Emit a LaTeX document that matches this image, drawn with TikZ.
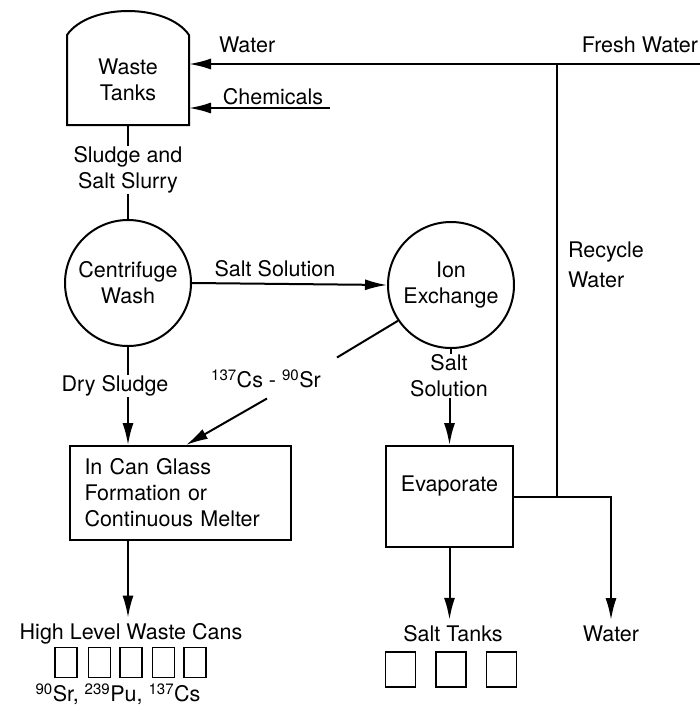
\documentclass[tikz,border=0pt]{standalone}
\usepackage{fontspec}
\setmainfont{TeX Gyre Heros}
\usetikzlibrary{arrows.meta,calc}
\begin{document}
\begin{tikzpicture}[x=1pt,y=-1pt,
  line width=2pt,
  font=\fontsize{21.5}{26}\selectfont,
  lbl/.style={inner sep=0pt, align=center},
  proc/.style={circle, draw, minimum size=126pt, inner sep=0pt, align=center},
  boxnode/.style={draw, inner sep=0pt},
  can/.style={draw, line width=1.6pt, minimum width=22pt, minimum height=30pt, inner sep=0pt},
  stank/.style={draw, line width=1.6pt, minimum width=30pt, minimum height=35pt, inner sep=0pt},
  arr/.style={-{Latex[length=22pt,width=11pt]}},
]
\useasboundingbox (0,0) rectangle (700,713);

% Waste tanks
\node[lbl, minimum width=120pt, minimum height=88pt] (wt) at (128,80) {Waste\\Tanks};
\draw (wt.south west) -- (wt.north west) .. controls +(22,-32) and +(-22,-32) .. (wt.north east) -- (wt.south east) -- cycle;

% Water / chemicals inputs
\coordinate (fw) at (700,64);
\node[lbl, anchor=west] (wl) at (218,45) {Water};
\node[lbl, anchor=east] (fwl) at (699,45) {Fresh Water};
\draw[arr] (fw) -- (wt.east |- fw);
\coordinate (ch) at (330,108);
\node[lbl] (chl) at (273,97) {Chemicals};
\draw[arr] (ch) -- (wt.east |- ch);

% Slurry
\node[lbl] (sl) at (128,170) {Sludge and\\Salt Slurry};
\node[proc] (cw) at (128,283) {Centrifuge\\Wash};
\draw (wt.south) -- (sl.north);
\draw (sl.south) -- (cw.north);

% Ion exchange
\node[proc] (ix) at (451,285) {Ion\\Exchange};
\draw[arr] (cw.east) -- (ix.west);
\node[lbl] (ssl) at (275,269) {Salt Solution};

% Dry sludge and glass
\node[lbl] (ds) at (115,386) {Dry Sludge};
\node[boxnode, minimum width=221pt, minimum height=94pt, inner xsep=14pt, text width=192pt, align=left] (gl) at (180.5,493) {In Can Glass\\Formation or\\Continuous Melter};
\draw (cw.south) -- (cw.south |- ds.north);
\draw[arr] (cw.south |- ds.south) -- (cw.south |- gl.north);

% Cs-Sr stream
\path (gl.north west) ++(117,0) coordinate (gin);
\coordinate (c1) at (337,357.5);
\coordinate (c2) at (267,398.5);
\draw (ix.214.5) -- (c1);
\draw[arr] (c2) -- (gin);
\node[lbl] (cs) at (266,379) {\textsuperscript{137}Cs - \textsuperscript{90}Sr};

% High level waste cans
\node[lbl] (hl) at (131,634) {High Level Waste Cans};
\draw[arr, shorten >=5pt] (cw.south |- gl.south) -- (cw.south |- hl.north);
\foreach \x/\n in {66/1,99.5/2,131/3,163.5/4,195/5}
  \node[can] (can\n) at (\x,662.5) {};
\node[lbl] (iso) at (118,694) {\textsuperscript{90}Sr, \textsuperscript{239}Pu, \textsuperscript{137}Cs};

% Salt solution to evaporator
\node[lbl] (ss2) at (449,376) {Salt\\Solution};
\node[boxnode, minimum width=127pt, minimum height=101pt, align=center] (ev) at (449.5,496.5) {Evaporate\\[0pt]\mbox{}};
\draw (ix.south) -- (ix.south |- ss2.north);
\draw[arr] (ev.north |- ss2.south) -- (ev.north);

% Evaporator outputs
\node[lbl] (st) at (453,634) {Salt Tanks};
\draw[arr, shorten >=5pt] (ev.south) -- (ev.south |- st.north);
\foreach \x/\n in {400.5/1,451/2,501.5/3}
  \node[stank] (st\n) at (\x,669.5) {};
\node[lbl] (wo) at (611,634) {Water};
\draw[arr, shorten >=5pt] (ev.east) -| (wo.north);

% Recycle water
\path (fw) ++(-143,0) coordinate (rt);
\draw (rt) -- (rt |- ev.east);
\node[lbl, align=left, anchor=west] (rw) at (567,265) {Recycle\\[4pt]Water};
\end{tikzpicture}
\end{document}
